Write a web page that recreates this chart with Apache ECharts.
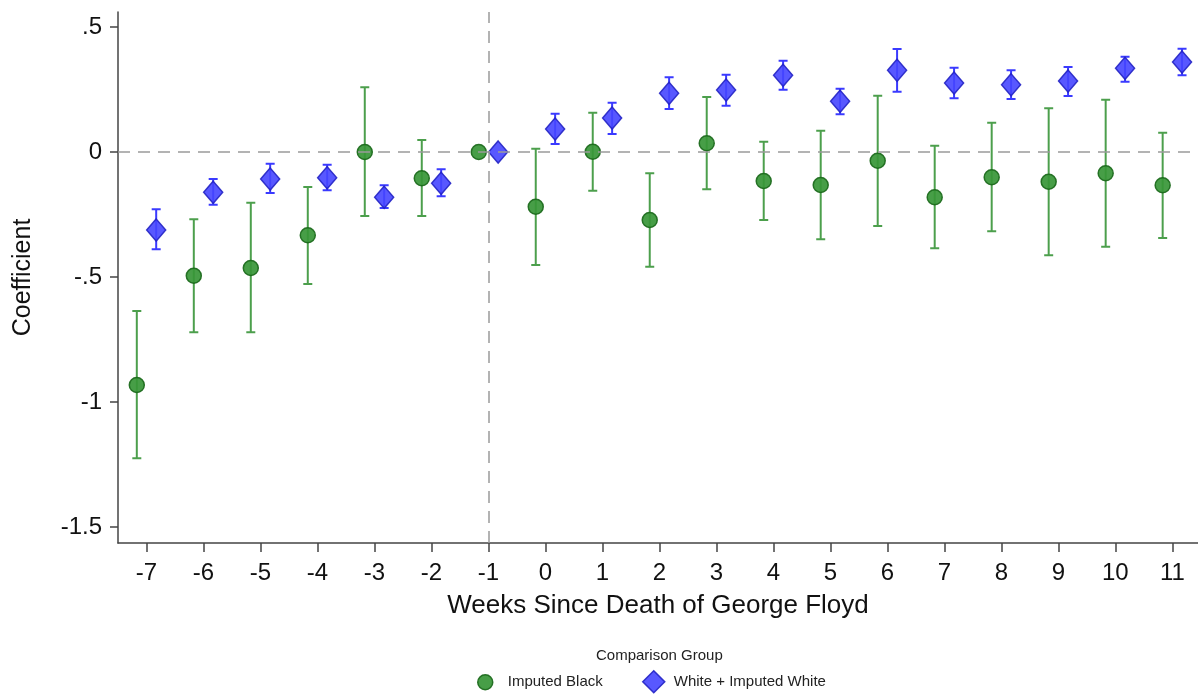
<!DOCTYPE html>
<html>
<head>
<meta charset="utf-8">
<script src="https://cdn.jsdelivr.net/npm/echarts@6/dist/echarts.min.js"></script>
<style>
  html, body { margin: 0; padding: 0; background: #fff; }
  #chart { width: 1198px; height: 694px; }
</style>
</head>
<body>
<div id="chart"></div>
<script>
// Event-study coefficients by week relative to the death of George Floyd
const weeks = [-7, -6, -5, -4, -3, -2, -1, 0, 1, 2, 3, 4, 5, 6, 7, 8, 9, 10, 11];
const yTicks = [-1.5, -1, -0.5, 0, 0.5];

// Comparison group: Imputed Black
const blackCoef = [-0.932, -0.495, -0.464, -0.333, 0.0, -0.105, 0, -0.219, 0.001, -0.272, 0.035, -0.116, -0.132, -0.035, -0.181, -0.101, -0.119, -0.085, -0.133];
const blackLow  = [-1.225, -0.721, -0.721, -0.528, -0.256, -0.256, null, -0.452, -0.155, -0.459, -0.149, -0.272, -0.349, -0.296, -0.385, -0.317, -0.413, -0.379, -0.344];
const blackHigh = [-0.636, -0.269, -0.203, -0.140, 0.259, 0.048, null, 0.013, 0.157, -0.085, 0.220, 0.041, 0.085, 0.225, 0.025, 0.117, 0.175, 0.209, 0.077];

// Comparison group: White + Imputed White
const whiteCoef = [-0.312, -0.161, -0.108, -0.103, -0.181, -0.125, 0, 0.092, 0.136, 0.235, 0.248, 0.307, 0.203, 0.327, 0.276, 0.269, 0.284, 0.335, 0.360];
const whiteLow  = [-0.389, -0.211, -0.164, -0.153, -0.224, -0.177, null, 0.032, 0.072, 0.172, 0.185, 0.249, 0.151, 0.241, 0.215, 0.212, 0.224, 0.281, 0.307];
const whiteHigh = [-0.229, -0.108, -0.047, -0.051, -0.133, -0.069, null, 0.153, 0.197, 0.299, 0.309, 0.365, 0.253, 0.412, 0.337, 0.327, 0.340, 0.381, 0.413];

// Horizontal dodge so the two groups sit side by side at each week
const DODGE = 0.17;

const GREEN_FILL = '#379637', GREEN_EDGE = '#1b691b', GREEN_BAR = '#4c9f4c';
const BLUE_FILL = '#4646ff', BLUE_EDGE = '#2222c4', BLUE_BAR = '#3a3aff';
const FONT = '"Liberation Sans", Arial, Helvetica, sans-serif';

function points(coef, shift) {
  return weeks.map((w, i) => [w + shift, coef[i]]);
}
function intervals(lo, hi, shift) {
  const out = [];
  weeks.forEach((w, i) => {
    if (lo[i] !== null && hi[i] !== null) out.push([w + shift, lo[i], hi[i]]);
  });
  return out;
}
function errorBars(color) {
  return function (params, api) {
    const x = api.value(0);
    const pLo = api.coord([x, api.value(1)]);
    const pHi = api.coord([x, api.value(2)]);
    const half = 4.5;
    const style = { stroke: color, lineWidth: 2 };
    return {
      type: 'group',
      children: [
        { type: 'line', shape: { x1: pLo[0], y1: pLo[1], x2: pHi[0], y2: pHi[1] }, style },
        { type: 'line', shape: { x1: pHi[0] - half, y1: pHi[1], x2: pHi[0] + half, y2: pHi[1] }, style },
        { type: 'line', shape: { x1: pLo[0] - half, y1: pLo[1], x2: pLo[0] + half, y2: pLo[1] }, style }
      ]
    };
  };
}

const legendText = { fontFamily: FONT, fontSize: 15, color: '#222' };

const chart = echarts.init(document.getElementById('chart'), null, { renderer: 'canvas' });

chart.setOption({
  backgroundColor: '#ffffff',
  animation: false,
  textStyle: { fontFamily: FONT },
  title: {
    text: 'Comparison Group',
    left: 596,
    top: 648,
    padding: 0,
    textStyle: { fontFamily: FONT, fontSize: 15, fontWeight: 'normal', color: '#222' }
  },
  legend: [
    {
      left: 477,
      top: 674,
      padding: 0,
      itemWidth: 15,
      itemHeight: 15,
      textStyle: Object.assign({}, legendText, { padding: [0, 0, 0, 10] }),
      data: [
        { name: 'Imputed Black', icon: 'circle', itemStyle: { color: GREEN_FILL, borderColor: GREEN_EDGE, borderWidth: 1.5 } }
      ]
    },
    {
      left: 642,
      top: 670,
      padding: 0,
      itemWidth: 22,
      itemHeight: 22,
      textStyle: Object.assign({}, legendText, { padding: [0, 0, 0, 4] }),
      data: [
        { name: 'White + Imputed White', icon: 'diamond', itemStyle: { color: BLUE_FILL, borderColor: BLUE_EDGE, borderWidth: 1.5 } }
      ]
    }
  ],
  grid: { left: 118, top: 12, right: 0, bottom: 151, containLabel: false },
  xAxis: {
    type: 'value',
    min: -7.5,
    max: 11.45,
    name: 'Weeks Since Death of George Floyd',
    nameLocation: 'middle',
    nameGap: 50,
    nameTextStyle: { fontFamily: FONT, fontSize: 26, color: '#111' },
    splitLine: { show: false },
    axisLine: { show: true, onZero: false, lineStyle: { color: '#444', width: 1.5 } },
    axisTick: { show: true, length: 9, lineStyle: { color: '#444', width: 1.5 }, customValues: weeks },
    axisLabel: { fontFamily: FONT, fontSize: 24, color: '#111', margin: 18, customValues: weeks }
  },
  yAxis: {
    type: 'value',
    min: -1.564,
    max: 0.56,
    name: 'Coefficient',
    nameLocation: 'middle',
    nameGap: 82,
    nameTextStyle: { fontFamily: FONT, fontSize: 25, color: '#111' },
    splitLine: { show: false },
    axisLine: { show: true, onZero: false, lineStyle: { color: '#444', width: 1.5 } },
    axisTick: { show: true, length: 8, lineStyle: { color: '#444', width: 1.5 }, customValues: yTicks },
    axisLabel: {
      fontFamily: FONT, fontSize: 24, color: '#111', margin: 16, customValues: yTicks,
      formatter: v => {
        if (v === 0) return '0';
        const s = String(v);
        return s.replace(/^0\./, '.').replace(/^-0\./, '-.');
      }
    }
  },
  series: [
    {
      name: 'refLines',
      type: 'line',
      data: [],
      silent: true,
      markLine: {
        silent: true,
        symbol: 'none',
        label: { show: false },
        lineStyle: { color: '#9a9a9a', type: [12, 8], width: 1.5 },
        data: [{ yAxis: 0 }, { xAxis: -1 }]
      }
    },
    {
      name: 'Imputed Black CI',
      type: 'custom',
      renderItem: errorBars(GREEN_BAR),
      data: intervals(blackLow, blackHigh, -DODGE),
      z: 2
    },
    {
      name: 'White + Imputed White CI',
      type: 'custom',
      renderItem: errorBars(BLUE_BAR),
      data: intervals(whiteLow, whiteHigh, DODGE),
      z: 2
    },
    {
      name: 'Imputed Black',
      type: 'scatter',
      symbol: 'circle',
      symbolSize: 15,
      itemStyle: { color: GREEN_FILL, borderColor: GREEN_EDGE, borderWidth: 1.5, opacity: 0.92 },
      data: points(blackCoef, -DODGE),
      z: 3
    },
    {
      name: 'White + Imputed White',
      type: 'scatter',
      symbol: 'diamond',
      symbolSize: [19, 22],
      itemStyle: { color: BLUE_FILL, borderColor: BLUE_EDGE, borderWidth: 1.5, opacity: 0.9 },
      data: points(whiteCoef, DODGE),
      z: 3
    }
  ]
});
</script>
</body>
</html>
